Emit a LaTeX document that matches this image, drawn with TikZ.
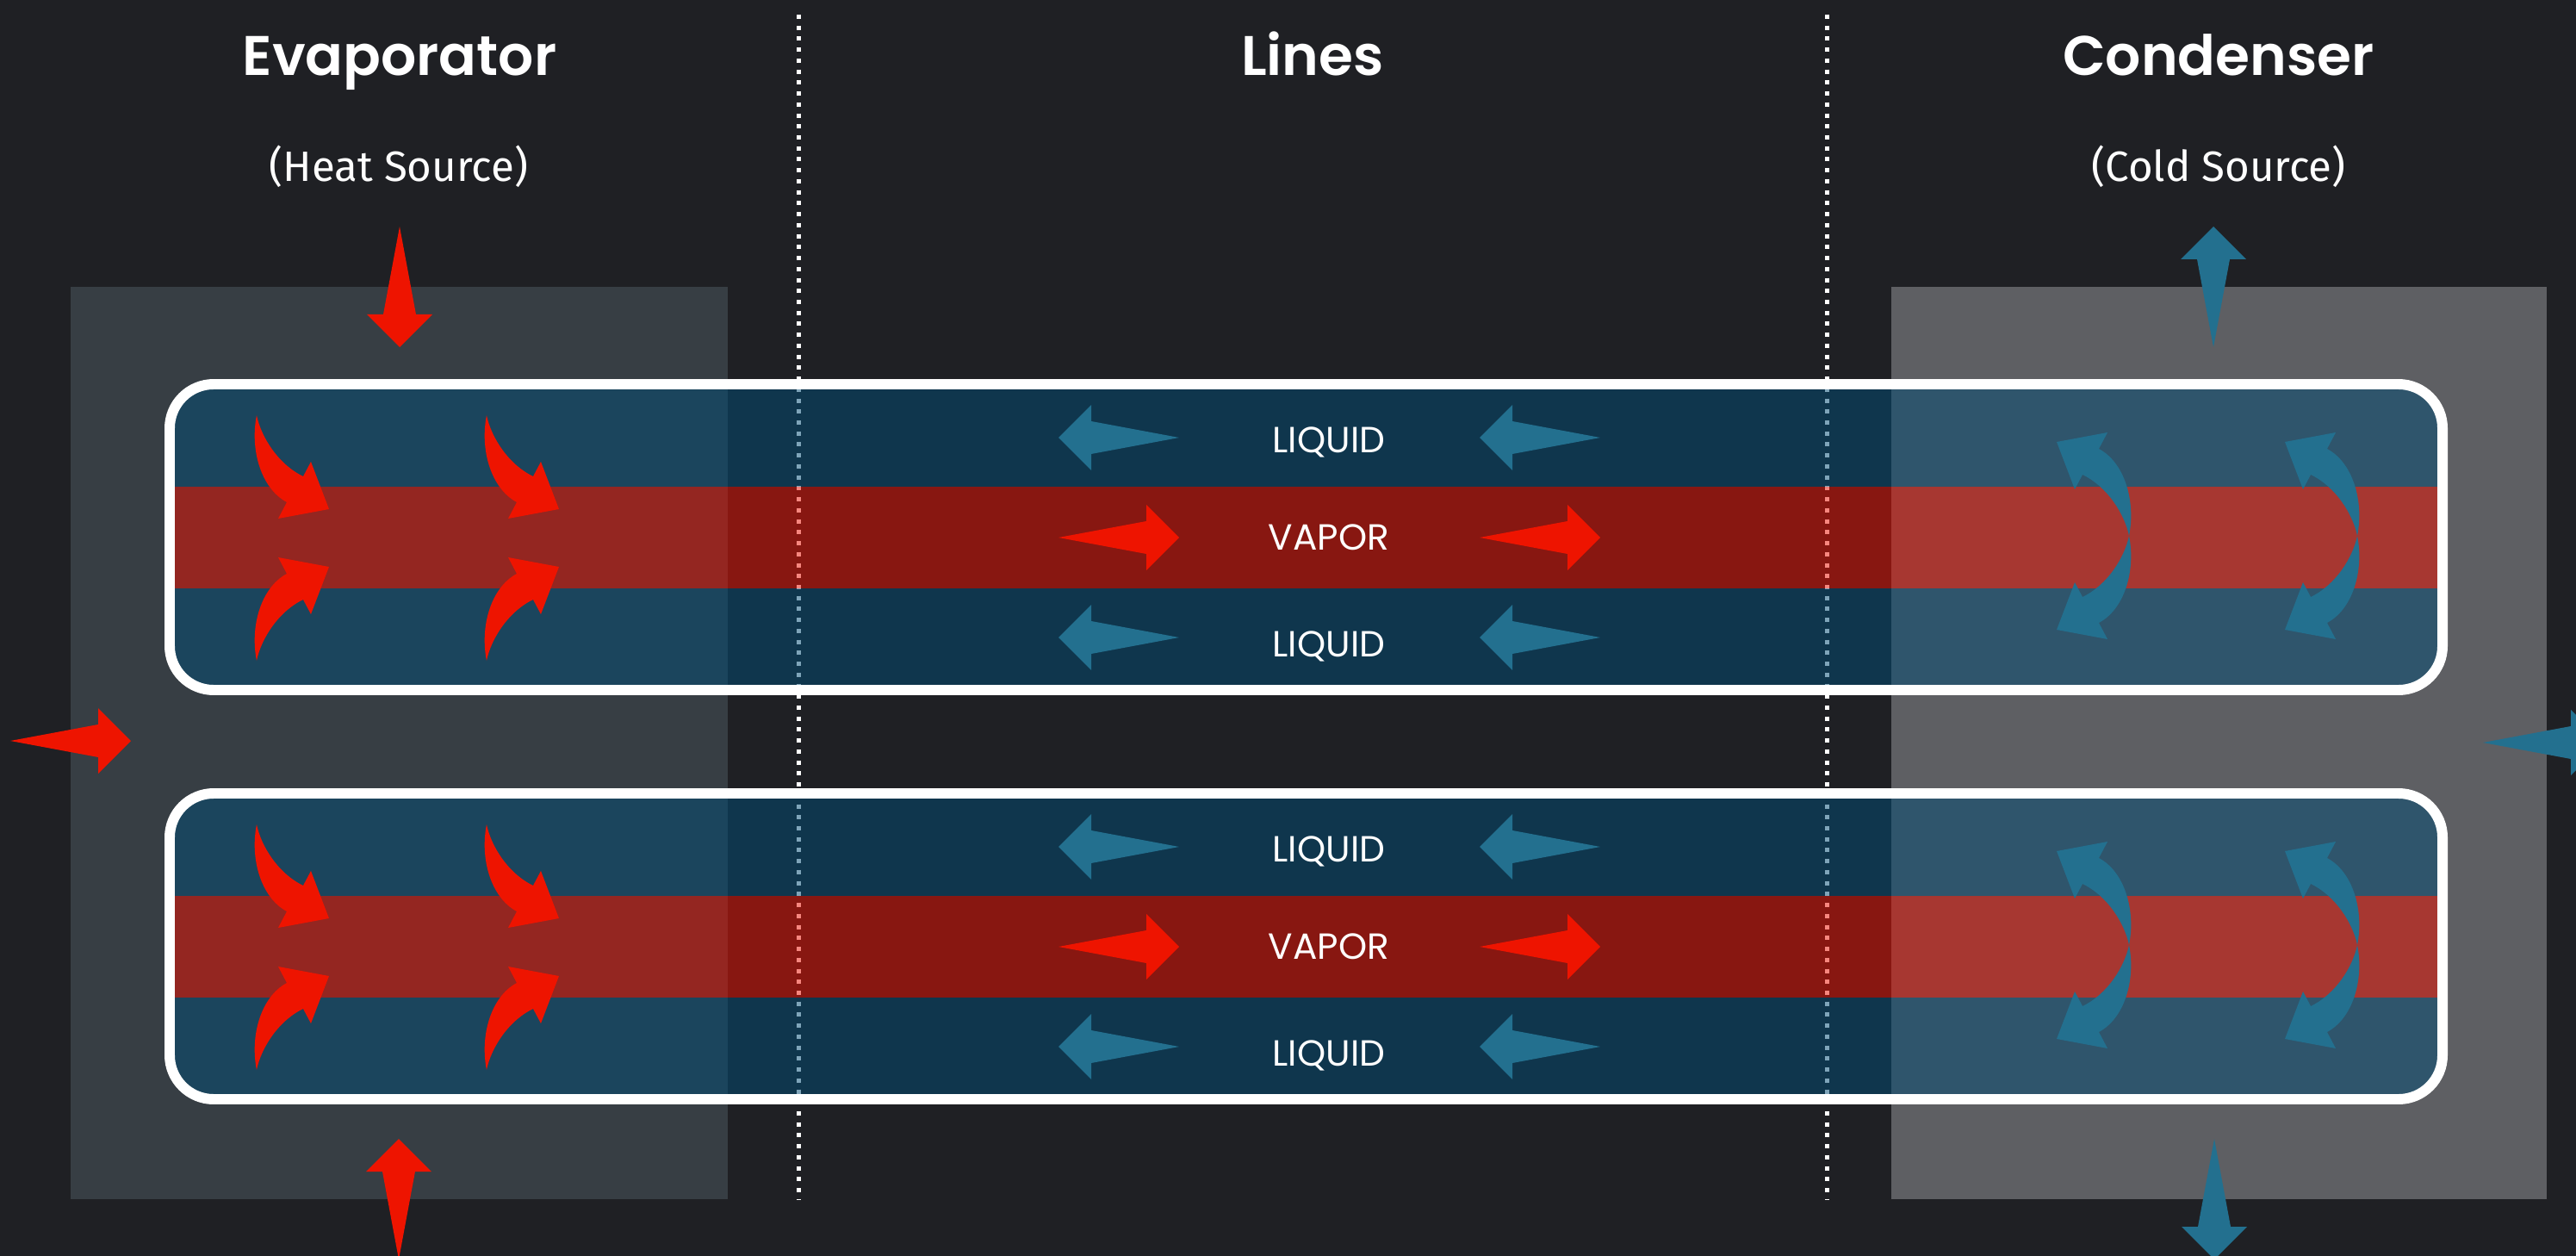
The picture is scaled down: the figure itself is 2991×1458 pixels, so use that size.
\documentclass[tikz,border=0pt]{standalone}
\usepackage{fontspec}
\setmainfont{Poppins}
\newfontfamily\titlefont{Poppins SemiBold}
\newfontfamily\subfont{Fira Sans}

\definecolor{bgdark}{HTML}{1F2024}
\definecolor{evapgrey}{HTML}{373E44}
\definecolor{condgrey}{HTML}{5E5F63}
\definecolor{arrowred}{HTML}{EE1400}
\definecolor{arrowblue}{HTML}{23708F}
\definecolor{liquidblue}{HTML}{014C76}
\definecolor{vaporred}{HTML}{F11000}

\begin{document}
\begin{tikzpicture}[x=0.01cm,y=-0.01cm,
  every node/.style={text=white,inner sep=0pt},
  title/.style={font=\titlefont\fontsize{18.4}{20}\selectfont,anchor=base},
  subtitle/.style={font=\subfont\fontsize{14}{16}\selectfont,anchor=base},
  flowlabel/.style={font=\fontsize{12}{14}\selectfont,anchor=base},
  dotline/.style={white,line width=1.42pt,dash pattern=on 1.42pt off 2.2pt},
  pics/flowarrow/.style={code={
    \fill (0,0) -- (-38,-38) -- (-38,-19) -- (-140,0) -- (-38,19) -- (-38,38) -- cycle;}},
  pics/bendarrow/.style={code={
    \fill (0,0) .. controls (-8,40) and (5,85) .. (35,101) -- (25,120) -- (84,109)
      -- (63,54) -- (54,71) .. controls (25,57) and (5,25) .. (0,0) -- cycle;}},
  pics/pipe/.style={code={
    \begin{scope}
      \clip[rounded corners=5.1mm] (0,0) rectangle (2639,355);
      \fill[liquidblue,fill opacity=.5] (0,0) rectangle (2639,119) (0,237) rectangle (2639,355);
      \fill[vaporred,fill opacity=.5] (0,119) rectangle (2639,237);
    \end{scope}
    \draw[white,line width=3.4pt,rounded corners=5.1mm] (0,0) rectangle (2639,355);}}]

\useasboundingbox (0,0) rectangle (2991,1458);
\clip (0,0) rectangle (2991,1458);
\fill[bgdark] (0,0) rectangle (2991,1458);

% the two exchangers
\fill[evapgrey] (82,333) rectangle (845,1392);
\fill[condgrey] (2196,333) rectangle (2957,1392);

\draw[dotline] (927,17) -- (927,1392);
\draw[dotline] (2121,17) -- (2121,1392);

\node[title] (evap) at (464,88) {Evaporator};
\node[title] (lines) at (1524,88) {Lines};
\node[title] (cond) at (2576,88) {Condenser};
\node[subtitle] (heat) at (463,211) {(Heat Source)};
\node[subtitle] (cold) at (2576,211) {(Cold Source)};

% two pipes, same content
\foreach \dy/\p in {0/a,475/b}{
  \pic at (197,446+\dy) {pipe};
  \pic[arrowblue,rotate=180] at (1229,508+\dy) {flowarrow};
  \pic[arrowblue,rotate=180] at (1718,508+\dy) {flowarrow};
  \pic[arrowred] at (1369,624+\dy) {flowarrow};
  \pic[arrowred] at (1858,624+\dy) {flowarrow};
  \pic[arrowblue,rotate=180] at (1229,740+\dy) {flowarrow};
  \pic[arrowblue,rotate=180] at (1718,740+\dy) {flowarrow};
  \node[flowlabel] (liqtop\p) at (1543,525+\dy) {LIQUID};
  \node[flowlabel] (vap\p) at (1543,638+\dy) {VAPOR};
  \node[flowlabel] (liqbot\p) at (1543,762+\dy) {LIQUID};
  % heat in
  \pic[arrowred] at (298,482+\dy) {bendarrow};
  \pic[arrowred,yscale=-1] at (298,767+\dy) {bendarrow};
  \pic[arrowred] at (565,482+\dy) {bendarrow};
  \pic[arrowred,yscale=-1] at (565,767+\dy) {bendarrow};
  % heat out
  \pic[arrowblue,rotate=180] at (2472,622+\dy) {bendarrow};
  \pic[arrowblue,xscale=-1] at (2472,622+\dy) {bendarrow};
  \pic[arrowblue,rotate=180] at (2737,622+\dy) {bendarrow};
  \pic[arrowblue,xscale=-1] at (2737,622+\dy) {bendarrow};
}

\pic[arrowred,rotate=-90] at (464,403) {flowarrow};
\pic[arrowred,rotate=90] at (463,1322) {flowarrow};
\pic[arrowred] at (152,860) {flowarrow};
\pic[arrowblue,rotate=90] at (2570,263) {flowarrow};
\pic[arrowblue,rotate=-90] at (2571,1462) {flowarrow};
\pic[arrowblue] at (3023,862) {flowarrow};

\end{tikzpicture}
\end{document}
